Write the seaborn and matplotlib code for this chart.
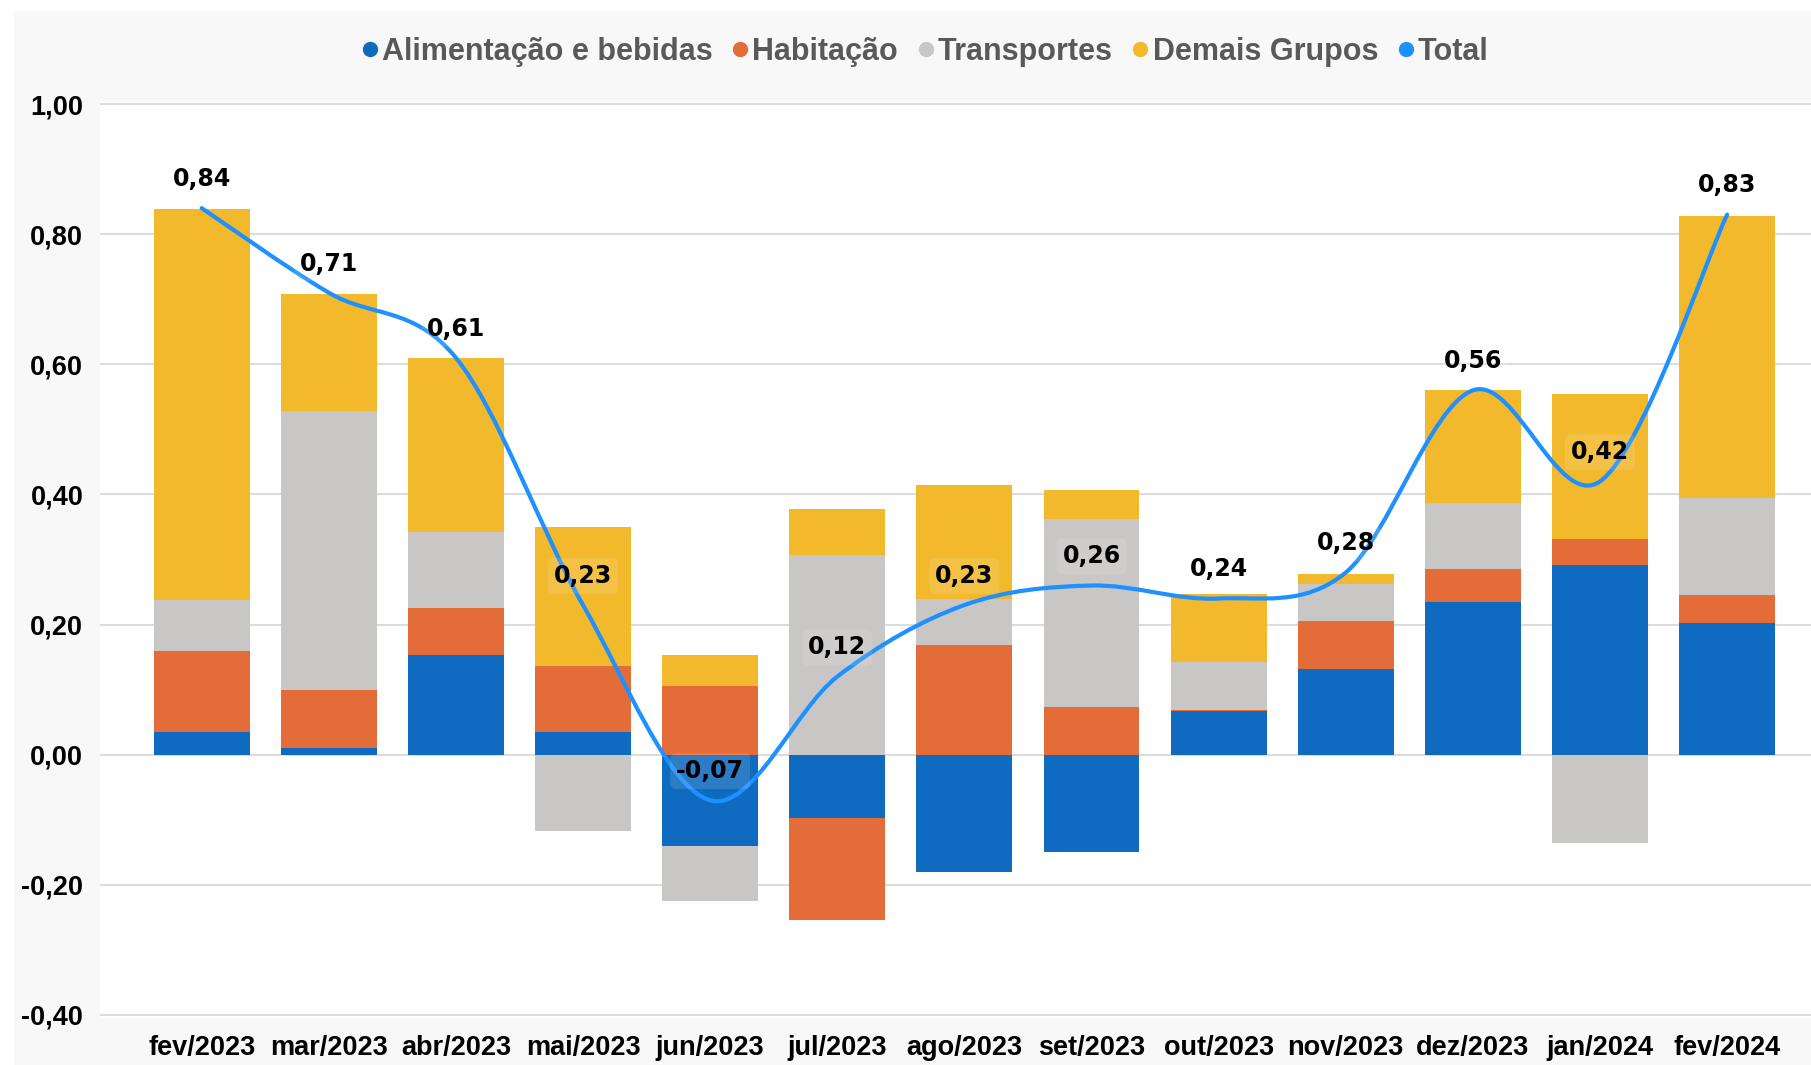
import numpy as np
import pandas as pd
import matplotlib
matplotlib.use("Agg")
import matplotlib.pyplot as plt
from matplotlib.path import Path
from matplotlib.patches import PathPatch, Rectangle
from matplotlib.lines import Line2D
import seaborn as sns

# Data (p.p. contribution to monthly inflation)
months = ["fev/2023", "mar/2023", "abr/2023", "mai/2023", "jun/2023", "jul/2023", "ago/2023",
          "set/2023", "out/2023", "nov/2023", "dez/2023", "jan/2024", "fev/2024"]
alimentacao = [0.035, 0.011, 0.154, 0.035, -0.141, -0.098, -0.181, -0.149, 0.067, 0.132, 0.234, 0.292, 0.202]
habitacao = [0.124, 0.088, 0.072, 0.101, 0.106, -0.156, 0.169, 0.073, 0.002, 0.074, 0.051, 0.039, 0.043]
transportes = [0.078, 0.429, 0.116, -0.117, -0.084, 0.307, 0.071, 0.290, 0.074, 0.057, 0.102, -0.135, 0.150]
demais = [0.602, 0.180, 0.267, 0.214, 0.047, 0.070, 0.175, 0.044, 0.104, 0.014, 0.174, 0.223, 0.433]
total = [0.84, 0.71, 0.61, 0.23, -0.07, 0.12, 0.23, 0.26, 0.24, 0.28, 0.56, 0.42, 0.83]

series_names = ["Alimentação e bebidas", "Habitação", "Transportes", "Demais Grupos"]
series_vals = [alimentacao, habitacao, transportes, demais]
colors = ["#0F6BBF", "#E46C38", "#C8C7C5", "#F2B92C"]
line_color = "#1E90FF"

sns.set_theme(style="whitegrid")
main_font = ["Liberation Sans", "DejaVu Sans"]
plt.rcParams["font.family"] = main_font

fig = plt.figure(figsize=(18.11, 10.65), dpi=100, facecolor="white")
fig.patches.append(Rectangle((0.008, 0), 0.992, 0.99, transform=fig.transFigure,
                             facecolor="#f8f8f8", edgecolor="none", zorder=-10))
ax = fig.add_axes([0.0552, 0.0439, 0.9448, 0.8615])
ax.set_facecolor("white")

# stacked bars, positives up and negatives down
pos_cum = np.zeros(len(months))
neg_cum = np.zeros(len(months))
for name, vals, col in zip(series_names, series_vals, colors):
    vals = np.array(vals)
    bottoms = np.where(vals >= 0, pos_cum, neg_cum)
    df = pd.DataFrame({"mes": months, "valor": vals})
    sns.barplot(data=df, x="mes", y="valor", order=months, color=col, width=0.755,
                bottom=bottoms, saturation=1, ax=ax, zorder=2, errorbar=None, linewidth=0)
    pos_cum += np.where(vals >= 0, vals, 0)
    neg_cum += np.where(vals < 0, vals, 0)

# smoothed total line (cubic Bezier through the points)
pts = np.column_stack([np.arange(len(total)), total]).astype(float)
n = len(pts)
verts = [pts[0]]
codes = [Path.MOVETO]
for i in range(n - 1):
    p0 = pts[i - 1] if i > 0 else pts[i]
    p1 = pts[i]
    p2 = pts[i + 1]
    p3 = pts[i + 2] if i + 2 < n else pts[i + 1]
    verts += [p1 + (p2 - p0) / 6, p2 - (p3 - p1) / 6, p2]
    codes += [Path.CURVE4] * 3
ax.add_patch(PathPatch(Path(verts, codes), facecolor="none", edgecolor=line_color,
                       lw=3.0, zorder=4, capstyle="round"))

# data labels
for i, v in enumerate(total):
    ax.annotate(f"{v:.2f}".replace(".", ","), (i, v), xytext=(0, 21), textcoords="offset points",
                ha="center", va="center", fontsize=17, fontweight="bold", color="black",
                family=["DejaVu Sans"], zorder=6,
                bbox=dict(boxstyle="round,pad=0.25", fc="white", ec="none", alpha=0.12))

ax.set_xlim(-0.8, 12.66)
ax.set_ylim(-0.405, 1.005)
ax.set_yticks(np.arange(-0.4, 1.01, 0.2))
ax.set_yticklabels([f"{t:.2f}".replace(".", ",") for t in np.arange(-0.4, 1.01, 0.2)])
ax.set_xlabel("")
ax.set_ylabel("")
ax.grid(axis="y", color="#dcdcdc", lw=1.5, zorder=0)
ax.grid(axis="x", visible=False)
for s in ax.spines.values():
    s.set_visible(False)
ax.tick_params(axis="both", length=0, labelsize=19.5, labelcolor="black")
ax.tick_params(axis="x", pad=12)
ax.tick_params(axis="y", pad=12)
for lab in ax.get_xticklabels() + ax.get_yticklabels():
    lab.set_fontweight("bold")

handles = [Line2D([], [], marker="o", ls="none", color=c, markersize=10) for c in colors]
handles.append(Line2D([], [], marker="o", ls="none", color=line_color, markersize=10))
fig.legend(handles, series_names + ["Total"], loc="center", bbox_to_anchor=(0.508, 0.951),
           ncol=5, frameon=False, handletextpad=-0.2, columnspacing=0.3, handlelength=1.2,
           prop={"family": main_font, "weight": "bold", "size": 22}, labelcolor="#595959")

fig.savefig("out.png", dpi=100, facecolor=fig.get_facecolor())
